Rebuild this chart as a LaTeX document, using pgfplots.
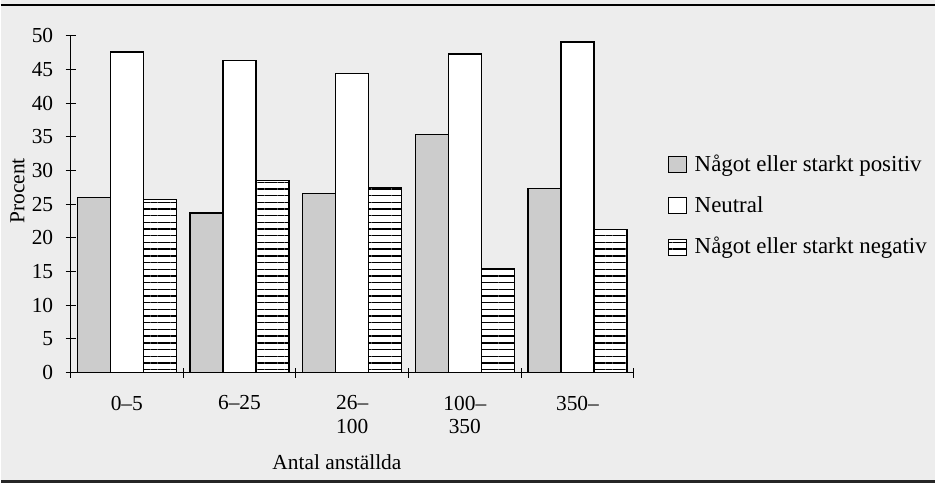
\documentclass[border=0pt]{standalone}
\usepackage{pgfplots}
\pgfplotsset{compat=1.18}
\usetikzlibrary{patterns,patterns.meta}
\usepackage{fontspec}
\setmainfont{Liberation Serif}
\begin{document}
\fontsize{21.5}{24}\selectfont
\begin{tikzpicture}[x=1bp,y=1bp]
\fill[black!7] (0,0) rectangle (936,484);
\draw[line width=1.2bp] (0,479) -- (936,479);
\fill[black!85] (0,0) rectangle (936,3);
\begin{axis}[
  at={(70bp,111bp)}, anchor=south west,
  scale only axis, width=564bp, height=337bp,
  xmin=-0.5, xmax=4.5, ymin=0, ymax=50,
  axis x line*=bottom, axis y line*=left,
  axis line style={line width=1.2bp, black},
  ybar=0pt, bar width=33bp,
  xtick={0,...,4},
  xticklabels={{0--5},{6--25},{26--\\100},{100--\\350},{350--}},
  major x tick style={draw=none},
  minor xtick={-0.5,0.5,...,4.5},
  ytick={0,5,...,50},
  tick align=center, major tick length=10bp, minor tick length=10bp,
  tick style={black, line width=1bp},
  /pgf/number format/assume math mode=true,
  yticklabel style={xshift=-5bp},
  xticklabel style={align=center, yshift=-11bp},
  xlabel={Antal anställda},
  xlabel style={at={(axis description cs:0.473,0)}, anchor=base, yshift=-97bp},
  ylabel={Procent},
  ylabel style={at={(axis description cs:-0.094,0.54)}, anchor=center},
  legend style={at={(axis description cs:1.060,0.4955)}, anchor=west, draw=none, fill=none,
    font=\fontsize{23}{26}\selectfont,
    row sep=18bp, column sep=6bp, cells={anchor=west}, inner sep=0pt},
  legend image code/.code={\draw[#1,line width=1bp] (0bp,-8bp) rectangle (18bp,8bp);},
]
\addplot[draw=black, line width=1.3bp, fill=black!20]
  coordinates {(0,26.0) (1,23.7) (2,26.6) (3,35.4) (4,27.3)};
\addlegendentry{Något eller starkt positiv}
\addplot[draw=black, line width=1.3bp, fill=white]
  coordinates {(0,47.6) (1,46.4) (2,44.4) (3,47.3) (4,49.1)};
\addlegendentry{Neutral}
\addplot[draw=black, line width=1.3bp, fill=white,
  postaction={pattern={Lines[angle=0,distance=6.7bp,line width=1.4bp]}}]
  coordinates {(0,25.7) (1,28.5) (2,27.5) (3,15.4) (4,21.2)};
\addlegendentry{Något eller starkt negativ}
\end{axis}
\end{tikzpicture}
\end{document}
